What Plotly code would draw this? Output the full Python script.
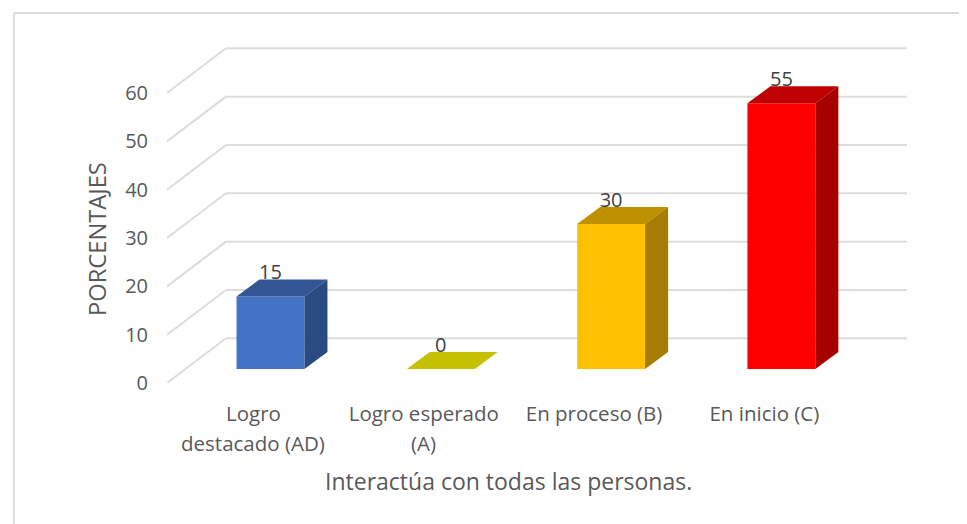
import plotly.graph_objects as go

categories_line1 = ["Logro", "Logro esperado", "En proceso (B)", "En inicio (C)"]
categories_line2 = ["destacado (AD)", "(A)", "", ""]
values = [15, 0, 30, 55]
y_ticks = [0, 10, 20, 30, 40, 50, 60]
front_colors = ["#4472C4", "#C5C000", "#FFC000", "#FF0000"]
top_colors = ["#335593", "#C5C000", "#BF9000", "#BF0000"]
side_colors = ["#2A4A82", "#C5C000", "#A67D00", "#A60000"]

TEXT = "#595959"
GRID = "#DCDCDC"
FONT = "Open Sans"

# fake 3d: depth is just an x/y shift in data units
wall_dx, wall_dy = 0.3464, 9.25
base_y = 2.9
bar_w = 0.399
bar_dx, bar_dy = 0.135, 3.52
label_gap = 4.6
tick_shift = 0.1

fig = go.Figure()

fig.add_trace(go.Bar(
    x=list(range(len(values))), y=values, base=base_y, width=bar_w,
    marker=dict(color=front_colors, line=dict(width=0)), hoverinfo="skip",
))

for i, v in enumerate(values):
    left, right = i - bar_w / 2, i + bar_w / 2
    top = base_y + v
    fig.add_trace(go.Scatter(
        x=[left, right, right + bar_dx, left + bar_dx, left],
        y=[top, top, top + bar_dy, top + bar_dy, top],
        mode="lines", line=dict(width=0), fill="toself", fillcolor=top_colors[i],
        hoverinfo="skip",
    ))
    if v > 0:
        fig.add_trace(go.Scatter(
            x=[right, right + bar_dx, right + bar_dx, right, right],
            y=[top, top + bar_dy, base_y + bar_dy, base_y, top],
            mode="lines", line=dict(width=0), fill="toself", fillcolor=side_colors[i],
            hoverinfo="skip",
        ))

fig.add_trace(go.Scatter(
    x=list(range(len(values))), y=[base_y + v + label_gap for v in values],
    mode="text", text=[str(v) for v in values],
    textposition="middle center", textfont=dict(family=FONT, size=20, color="#404040"),
    hoverinfo="skip",
))

x_min, x_max = -0.6077, 3.7375
for t in y_ticks:
    # side wall then back wall
    fig.add_shape(type="line", layer="below", xref="x", yref="y",
                  x0=x_min, y0=t, x1=x_min + wall_dx, y1=t + wall_dy,
                  line=dict(color=GRID, width=2))
    fig.add_shape(type="line", layer="below", xref="x", yref="y",
                  x0=x_min + wall_dx, y0=t + wall_dy, x1=x_max, y1=t + wall_dy,
                  line=dict(color=GRID, width=2))

# outer chart frame
fig.add_shape(type="line", xref="paper", yref="paper", x0=-0.2068, x1=-0.2068, y0=-0.5, y1=1.0787,
              line=dict(color=GRID, width=2))
fig.add_shape(type="line", xref="paper", yref="paper", x0=-0.2068, x1=1.2, y0=1.0787, y1=1.0787,
              line=dict(color=GRID, width=2))

# second lines of the category labels, the gap is wider than a plotly <br>
for i, txt in enumerate(categories_line2):
    if txt:
        fig.add_annotation(x=i - tick_shift, xref="x", y=0, yref="paper", yanchor="middle", yshift=-60,
                           text=txt, showarrow=False,
                           font=dict(family=FONT, size=20.5, color=TEXT))

# axis titles sit off-centre in the original
fig.add_annotation(x=0.462, xref="paper", xanchor="center", y=0, yref="paper", yanchor="middle", yshift=-98,
                   text="Interactúa con todas las personas.", showarrow=False,
                   font=dict(family=FONT, size=23, color=TEXT))
fig.add_annotation(x=0, xref="paper", xanchor="center", xshift=-70, y=0.42, yref="paper", yanchor="middle",
                   text="PORCENTAJES", textangle=-90, showarrow=False,
                   font=dict(family=FONT, size=23.7, color=TEXT))

fig.update_layout(
    # page body adds 8px, so the figure is 8px short of the window
    width=959, height=516,
    margin=dict(l=159, r=60, t=32, b=141),
    paper_bgcolor="white", plot_bgcolor="rgba(0,0,0,0)",
    showlegend=False,
    font=dict(family=FONT, color=TEXT),
    xaxis=dict(
        range=[x_min, x_max], showgrid=False, zeroline=False, showline=False,
        tickmode="array", tickvals=[i - tick_shift for i in range(len(values))],
        ticktext=categories_line1, tickfont=dict(size=20.5, color=TEXT), ticklen=0, tickangle=0,
        ticklabelstandoff=16,
    ),
    yaxis=dict(
        range=[0, 70.97], showgrid=False, zeroline=False, showline=False,
        tickmode="array", tickvals=y_ticks, tickfont=dict(size=20, color=TEXT), ticklen=0,
        ticklabelstandoff=18,
    ),
)

fig.write_html("out.html")
